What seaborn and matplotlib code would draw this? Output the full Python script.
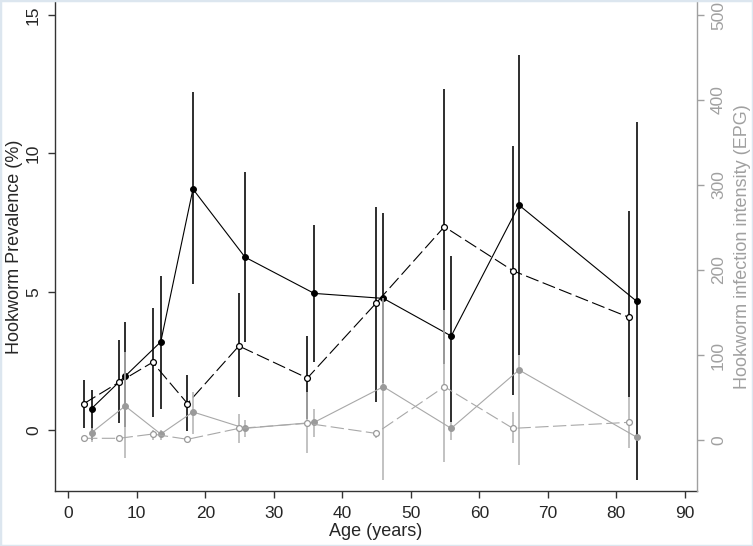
import matplotlib
matplotlib.use("Agg")
import matplotlib.pyplot as plt
import seaborn as sns
import pandas as pd

# ---- data ----
age_a = [3.4, 8.3, 13.5, 18.2, 25.8, 35.9, 46.0, 55.9, 65.8, 83.0]
age_b = [2.3, 7.4, 12.3, 17.4, 24.9, 34.9, 44.9, 54.9, 64.9, 81.9]

prev_a = [0.78, 1.95, 3.19, 8.71, 6.25, 4.94, 4.76, 3.40, 8.13, 4.65]
prev_a_lo = [-0.35, 0.10, 0.78, 5.27, 3.19, 2.47, 1.70, 0.30, 2.71, -1.80]
prev_a_hi = [1.45, 3.91, 5.57, 12.23, 9.31, 7.41, 7.83, 6.29, 13.55, 11.14]

prev_b = [0.96, 1.73, 2.45, 0.96, 3.04, 1.88, 4.58, 7.35, 5.76, 4.07]
prev_b_lo = [0.06, 0.24, 0.48, -0.04, 1.20, 0.40, 1.02, 2.40, 1.26, 1.20]
prev_b_hi = [1.81, 3.25, 4.42, 1.99, 4.94, 3.40, 8.05, 12.31, 10.26, 7.93]

epg_a = [8.6, 40.0, 7.0, 33.0, 13.7, 20.8, 62.7, 13.7, 82.4, 3.2]
epg_a_lo = [-2.0, -21.5, 0.0, 7.0, 3.9, 3.9, -47.0, 0.0, -29.0, 0.5]
epg_a_hi = [14.0, 104.0, 12.0, 57.0, 23.5, 37.0, 167.0, 21.5, 100.0, 6.0]

epg_b = [2.0, 2.0, 7.0, 0.8, 13.7, 19.6, 7.8, 62.7, 13.7, 20.8]
epg_b_lo = [0.0, 0.0, 0.0, 0.0, -4.0, -15.7, 2.0, -25.5, -4.0, -9.8]
epg_b_hi = [4.0, 4.0, 12.0, 2.0, 31.0, 57.0, 12.0, 153.0, 33.0, 51.0]

left_ticks = [0, 5, 10, 15]
right_ticks = [0, 100, 200, 300, 400, 500]
x_ticks = [0, 10, 20, 30, 40, 50, 60, 70, 80, 90]

sns.set_theme(style="white")
plt.rcParams['font.family'] = ['Liberation Sans', 'DejaVu Sans']

W, H = 753, 546
fig = plt.figure(figsize=(W / 100, H / 100), dpi=100)
L, R, B, T = 55, 697, 491, 2
ax = fig.add_axes([L / W, 1 - B / H, (R - L) / W, (B - T) / H])
ax2 = ax.twinx()

GRAY_LINE = "#a8a8a8"
GRAY_MARK = "#9a9a9a"
GRAY_BAR = "#b4b4b4"
GRAY_AX = "#a0a0a0"

df_a = pd.DataFrame({"age": age_a, "prev": prev_a, "lo": prev_a_lo, "hi": prev_a_hi})
df_b = pd.DataFrame({"age": age_b, "prev": prev_b, "lo": prev_b_lo, "hi": prev_b_hi})
dg_a = pd.DataFrame({"age": age_a, "epg": epg_a, "lo": epg_a_lo, "hi": epg_a_hi})
dg_b = pd.DataFrame({"age": age_b, "epg": epg_b, "lo": epg_b_lo, "hi": epg_b_hi})

BAR_LW = 1.15
MS = 4.2

# prevalence (left axis)
ax.vlines(df_a["age"], df_a["lo"], df_a["hi"], color="black", lw=BAR_LW, zorder=1)
ax.vlines(df_b["age"], df_b["lo"], df_b["hi"], color="black", lw=BAR_LW, zorder=1)
sns.lineplot(data=df_a, x="age", y="prev", ax=ax, color="black", lw=0.8,
             marker="o", markersize=MS, markerfacecolor="black",
             markeredgecolor="black", errorbar=None, sort=False, zorder=3)
sns.lineplot(data=df_b, x="age", y="prev", ax=ax, color="black", lw=0.8,
             linestyle=(0, (12, 4)), marker="o", markersize=MS,
             markerfacecolor="white", markeredgecolor="black",
             markeredgewidth=0.9, errorbar=None, sort=False, zorder=3)

# intensity (right axis)
ax2.vlines(dg_a["age"], dg_a["lo"], dg_a["hi"], color=GRAY_BAR, lw=BAR_LW, zorder=1)
ax2.vlines(dg_b["age"], dg_b["lo"], dg_b["hi"], color=GRAY_BAR, lw=BAR_LW, zorder=1)
sns.lineplot(data=dg_a, x="age", y="epg", ax=ax2, color=GRAY_LINE, lw=0.8,
             marker="o", markersize=MS, markerfacecolor=GRAY_MARK,
             markeredgecolor=GRAY_MARK, errorbar=None, sort=False, zorder=3)
sns.lineplot(data=dg_b, x="age", y="epg", ax=ax2, color=GRAY_LINE, lw=0.8,
             linestyle=(0, (12, 4)), marker="o", markersize=MS,
             markerfacecolor="white", markeredgecolor=GRAY_MARK,
             markeredgewidth=0.9, errorbar=None, sort=False, zorder=3)

# axes limits
ax.set_xlim(-1.94, 91.78)
ax.set_ylim(-2.20, 15.47)
ax2.set_ylim(-60.0, 515.3)

ax.set_xticks(x_ticks)
ax.set_yticks(left_ticks)
ax2.set_yticks(right_ticks)
ax.set_xticklabels([str(v) for v in x_ticks])
ax.set_yticklabels([str(v) for v in left_ticks], rotation=90, va="center")
ax2.set_yticklabels([str(v) for v in right_ticks], rotation=90, va="center",
                    color=GRAY_AX)

for a in (ax, ax2):
    a.grid(False)
    a.set_facecolor("none")
    for s in a.spines.values():
        s.set_visible(False)
ax.spines["left"].set_visible(True)
ax.spines["bottom"].set_visible(True)
ax.spines["left"].set_color("#333333")
ax.spines["bottom"].set_color("#333333")
ax2.spines["right"].set_visible(True)
ax2.spines["right"].set_color(GRAY_AX)
for s in ("left", "bottom"):
    ax.spines[s].set_linewidth(1.0)
ax2.spines["right"].set_linewidth(1.0)

ax.tick_params(axis="both", which="both", direction="out", length=5, width=1.0,
               color="#333333", labelsize=12.5, left=True, bottom=True)
ax.tick_params(axis="x", pad=6)
ax.tick_params(axis="y", pad=5)
ax2.tick_params(axis="y", direction="out", length=5, width=1.0, color=GRAY_AX,
                labelsize=12.5, pad=5, right=True, labelcolor=GRAY_AX)

ax.set_xlabel("Age (years)", fontsize=13, labelpad=1)
ax.set_ylabel("Hookworm Prevalence (%)", fontsize=13, labelpad=2)
ax2.set_ylabel("Hookworm infection intensity (EPG)", fontsize=13,
               color=GRAY_AX, labelpad=6)

# faint screenshot frame
fig.patches.append(plt.Rectangle((0, 0), 1, 1, transform=fig.transFigure,
                                 fill=False, edgecolor="#dce6ef", lw=2.5))

fig.savefig("out.png", dpi=100)
